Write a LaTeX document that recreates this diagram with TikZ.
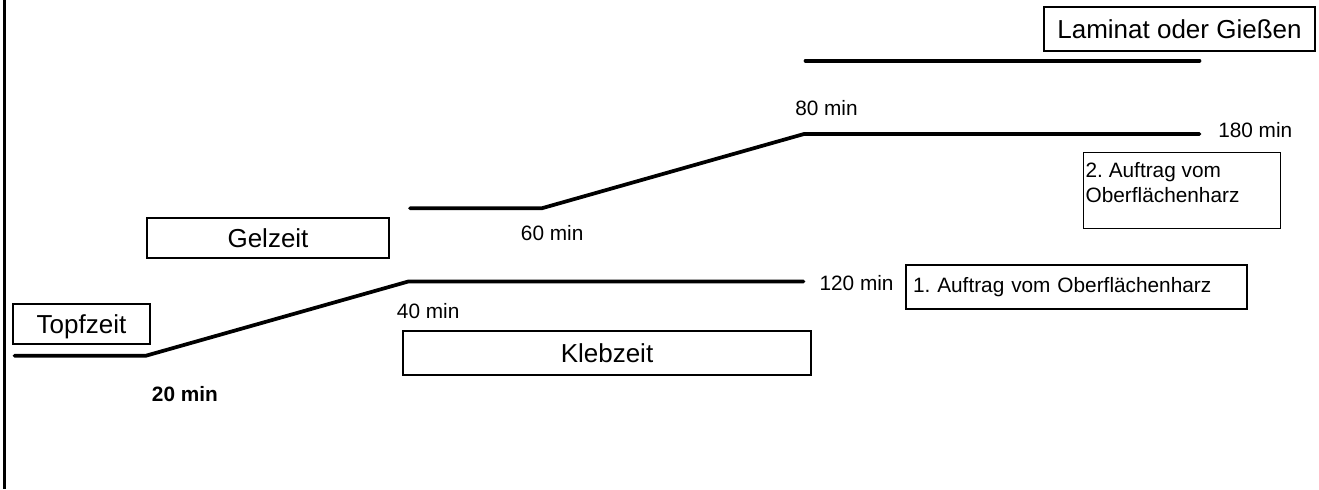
\documentclass[tikz,border=0pt]{standalone}
\usepackage{fontspec}
\setmainfont{Liberation Sans}
\frenchspacing
\usetikzlibrary{positioning}
\tikzset{
  phasebox/.style={draw, line width=1pt, inner sep=0pt, text depth=0pt,
                   font=\fontsize{19.5}{23}\selectfont},
  notebox/.style={draw, line width=1.1pt, inner sep=0pt,
                  font=\fontsize{15.6}{18.75}\selectfont},
  minlabel/.style={anchor=base west, inner sep=0pt,
                   font=\fontsize{15.6}{18.75}\selectfont},
  timeline/.style={line width=2.8pt, line cap=round}
}

\begin{document}
\begin{tikzpicture}[x=0.75pt,y=-0.75pt]
            \useasboundingbox (0,0) rectangle (1319,489);
            \draw[line width=2.25pt] (4.5,0) -- (4.5,489);

            % phase boxes
            \node[phasebox, minimum width=102.75pt, minimum height=30pt] (topf) at (81.5,324) {Topfzeit};
            \node[phasebox, minimum width=181.5pt, minimum height=30pt] (gel) at (268,238) {Gelzeit};
            \node[phasebox, minimum width=306pt, minimum height=33pt] (kleb) at (607,353) {Klebzeit};
            \node[phasebox, minimum width=203.25pt, minimum height=33pt] (laminat) at (1179.5,29) {Laminat oder Gießen};

            % resin coats
            \node[notebox, minimum width=255.75pt, minimum height=33pt, text width=245.25pt,
                  align=left] (auftrag1) at (1076.5,287) {1. Auftrag vom Oberflächenharz};
            \node[notebox, minimum width=147.75pt, minimum height=57pt, anchor=north west] (auftrag2) at (1083,152) {};
            \node[minlabel, align=left, below right=8pt and 1.8pt of auftrag2.north west] (auftrag2txt) {2. Auftrag vom\\Oberflächenharz};

            % times
            \node[minlabel, font=\fontsize{15.6}{18.75}\selectfont\bfseries] (m20) at (151.7,401.7) {20 min};
            \node[minlabel] (m40) at (396.7,318.3) {40 min};
            \node[minlabel] (m60) at (520.7,240) {60 min};
            \node[minlabel] (m80) at (795,115) {80 min};
            \node[minlabel] (m120) at (819.3,290) {120 min};
            \node[minlabel] (m180) at (1218,137.3) {180 min};

            % time lines
            \coordinate (t0) at (14.5,355.7);
            \coordinate (t20) at (146,355.7);
            \coordinate (t40) at (408.3,281.5);
            \coordinate (t120) at (803.5,281.5);
            \draw[timeline] (t0) -- (t20) -- (t40) -- (t120);

            \coordinate (g40) at (410,208.3);
            \coordinate (g60) at (541.7,208.3);
            \coordinate (g80) at (804,134);
            \coordinate (g180) at (1199.5,134);
            \draw[timeline] (g40) -- (g60) -- (g80) -- (g180);

            \coordinate (l80) at (805.5,60.7);
            \coordinate (l180) at (1199.5,60.7);
            \draw[timeline] (l80) -- (l180);
        \end{tikzpicture}
\end{document}
